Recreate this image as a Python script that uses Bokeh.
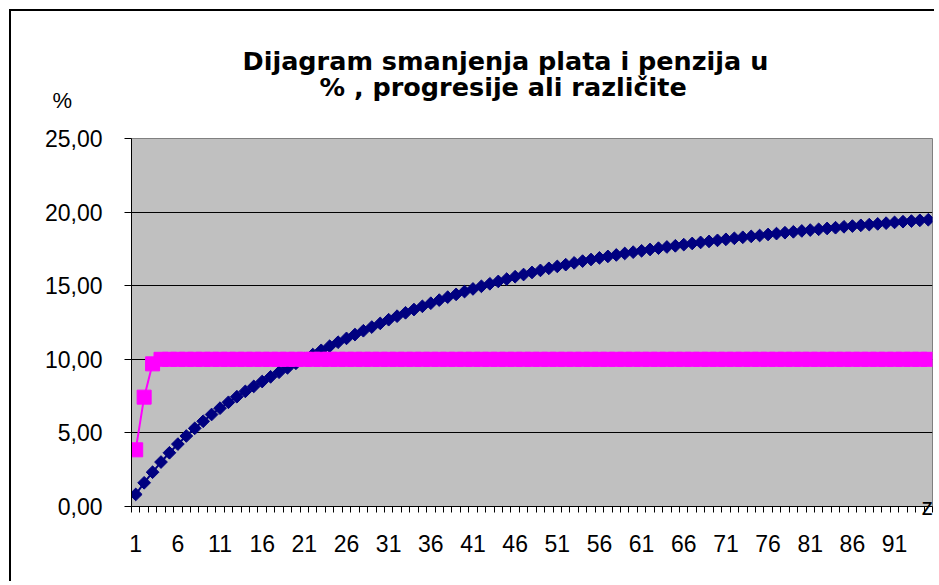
from bokeh.plotting import figure
from bokeh.models import Range1d, FixedTicker, Title, LinearAxis
from bokeh.embed import file_html
from bokeh.resources import INLINE

# ---- data ----
categories = list(range(1, 96))

blue_values = [
    0.82, 1.61, 2.33, 3.02, 3.65, 4.24, 4.79, 5.31, 5.79, 6.25,
    6.68, 7.08, 7.46, 7.82, 8.16, 8.49, 8.81, 9.12, 9.42, 9.73,
    10.03, 10.32, 10.61, 10.89, 11.16, 11.42, 11.68, 11.94, 12.19, 12.44,
    12.69, 12.93, 13.16, 13.38, 13.60, 13.81, 14.02, 14.22, 14.41, 14.60,
    14.78, 14.96, 15.13, 15.29, 15.45, 15.61, 15.76, 15.90, 16.04, 16.18,
    16.31, 16.43, 16.55, 16.67, 16.78, 16.89, 16.99, 17.09, 17.19, 17.28,
    17.37, 17.46, 17.55, 17.63, 17.71, 17.79, 17.87, 17.94, 18.01, 18.08,
    18.15, 18.22, 18.29, 18.35, 18.41, 18.48, 18.54, 18.60, 18.66, 18.72,
    18.78, 18.83, 18.89, 18.94, 19.00, 19.05, 19.10, 19.15, 19.20, 19.25,
    19.30, 19.35, 19.39, 19.44, 19.48,
]

pink_values = [
    3.85, 7.43, 9.69, 10.00, 10.00, 10.00, 10.00, 10.00, 10.00, 10.00,
    10.00, 10.00, 10.00, 10.00, 10.00, 10.00, 10.00, 10.00, 10.00, 10.00,
    10.00, 10.00, 10.00, 10.00, 10.00, 10.00, 10.00, 10.00, 10.00, 10.00,
    10.00, 10.00, 10.00, 10.00, 10.00, 10.00, 10.00, 10.00, 10.00, 10.00,
    10.00, 10.00, 10.00, 10.00, 10.00, 10.00, 10.00, 10.00, 10.00, 10.00,
    10.00, 10.00, 10.00, 10.00, 10.00, 10.00, 10.00, 10.00, 10.00, 10.00,
    10.00, 10.00, 10.00, 10.00, 10.00, 10.00, 10.00, 10.00, 10.00, 10.00,
    10.00, 10.00, 10.00, 10.00, 10.00, 10.00, 10.00, 10.00, 10.00, 10.00,
    10.00, 10.00, 10.00, 10.00, 10.00, 10.00, 10.00, 10.00, 10.00, 10.00,
    10.00, 10.00, 10.00, 10.00, 10.00,
]

x_tick_values = [1, 6, 11, 16, 21, 26, 31, 36, 41, 46, 51, 56, 61, 66, 71, 76, 81, 86, 91]
x_tick_labels = ["1", "6", "11", "16", "21", "26", "31", "36", "41", "46",
                 "51", "56", "61", "66", "71", "76", "81", "86", "91"]
y_tick_values = [0, 5, 10, 15, 20, 25]
y_tick_labels = ["0,00", "5,00", "10,00", "15,00", "20,00", "25,00"]

title_line1 = "Dijagram smanjenja plata i penzija u"
title_line2 = "% , progresije ali različite"
y_unit = "%"
x_name = "z"

FONT = "Liberation Sans"
TITLE_FONT = "DejaVu Sans"

p = figure(width=925, height=572, output_backend="svg", toolbar_location=None,
           x_range=Range1d(0.5, len(categories) + 0.5), y_range=Range1d(0, 25),
           min_border_left=120, min_border_right=1, min_border_top=127,
           min_border_bottom=77, title=None)
p.styles = {"margin-left": "9px", "margin-top": "9px",
            "border-left": "2px solid black", "border-top": "2px solid black"}

p.background_fill_color = "#C0C0C0"
p.border_fill_color = "white"
p.outline_line_color = "#808080"
p.outline_line_width = 1

# titles: first added is nearest to the frame
p.add_layout(Title(text=" ", text_font=FONT, text_font_size="10px", standoff=30), "above")
p.add_layout(Title(text=y_unit, align="left", offset=-79, standoff=-34,
                   text_font=FONT, text_font_size="22px", text_font_style="normal",
                   text_color="black"), "above")
p.add_layout(Title(text=title_line2, align="left", offset=188, standoff=-16,
                   vertical_align="top",
                   text_font=TITLE_FONT, text_font_size="25.5px", text_font_style="bold",
                   text_color="black"), "above")
p.add_layout(Title(text=title_line1, align="left", offset=111, standoff=4,
                   vertical_align="top",
                   text_font=TITLE_FONT, text_font_size="25.5px", text_font_style="bold",
                   text_color="black"), "above")

# x axis
minor_positions = [c - 0.5 for c in categories] + [categories[-1] + 0.5]
p.xaxis.ticker = FixedTicker(ticks=x_tick_values, minor_ticks=minor_positions)
p.xaxis.major_label_overrides = dict(zip(x_tick_values, x_tick_labels))
p.xaxis.major_tick_out = 0
p.xaxis.major_tick_in = 0
p.xaxis.minor_tick_out = 6
p.xaxis.minor_tick_in = 0
p.xaxis.minor_tick_line_color = "black"
p.xaxis.axis_line_color = "black"
p.xaxis.major_label_text_font = FONT
p.xaxis.major_label_text_font_size = "23px"
p.xaxis.major_label_text_color = "black"
p.xaxis.major_label_standoff = 22

# y axis
p.yaxis.ticker = FixedTicker(ticks=y_tick_values)
p.yaxis.major_label_overrides = dict(zip(y_tick_values, y_tick_labels))
p.yaxis.major_tick_out = 7
p.yaxis.major_tick_in = 0
p.yaxis.major_tick_line_color = "black"
p.yaxis.axis_line_color = "black"
p.yaxis.major_label_text_font = FONT
p.yaxis.major_label_text_font_size = "23px"
p.yaxis.major_label_text_color = "black"
p.yaxis.major_label_standoff = 22

p.xgrid.grid_line_color = None
p.ygrid.grid_line_color = "black"
p.ygrid.grid_line_width = 1

# axis name "z" at the right end of the category axis
z_axis = LinearAxis(ticker=FixedTicker(ticks=[0]), major_label_overrides={0: x_name},
                    axis_line_color=None, major_tick_line_color=None,
                    minor_tick_line_color=None, major_tick_out=0, major_tick_in=0,
                    major_label_standoff=-11, major_label_text_font=FONT,
                    major_label_text_font_size="23px", major_label_text_color="black")
p.add_layout(z_axis, "right")

# series
p.line(categories, blue_values, line_color="#000080", line_width=2)
p.scatter(categories, blue_values, marker="square", angle=0.785398, size=9,
          fill_color="#000080", line_color="#000080")
p.line(categories, pink_values, line_color="#FF00FF", line_width=2)
p.scatter(categories, pink_values, marker="square", size=14,
          fill_color="#FF00FF", line_color="#FF00FF")

open("out.html", "w").write(file_html(p, INLINE))
